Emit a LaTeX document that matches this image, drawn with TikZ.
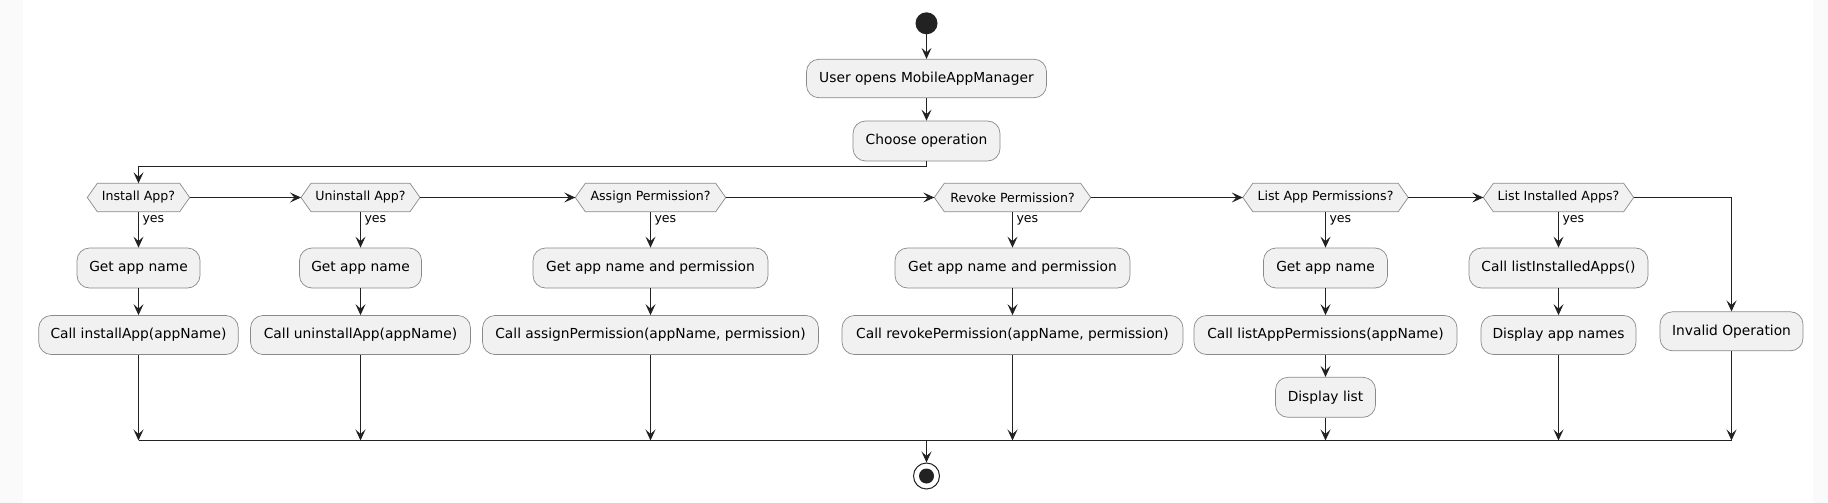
\documentclass[tikz,border=0pt]{standalone}
\usepackage{fontspec}
\setmainfont{DejaVu Sans}
\usetikzlibrary{arrows.meta,backgrounds}
\definecolor{boxfill}{HTML}{F1F1F1}
\definecolor{ink}{HTML}{222222}
\definecolor{edgegray}{HTML}{8A8A8A}
\definecolor{margin}{HTML}{FAFAFA}
\tikzset{
  act/.style={draw=edgegray, fill=boxfill, rounded corners=12.5pt, line width=0.7pt,
    minimum height=40pt, inner sep=0pt, font=\fontsize{13.8}{16}\selectfont},
  dec/.style={inner sep=0pt, minimum height=28pt, font=\fontsize{12.6}{15}\selectfont},
  hexline/.style={draw=edgegray, fill=boxfill, line width=0.7pt},
  flow/.style={draw=ink, line width=1pt, -{Stealth[length=11pt,width=10pt,inset=4.5pt]}},
  plain/.style={draw=ink, line width=1pt},
  yeslbl/.style={anchor=west, pos=0.24, xshift=3.5pt, inner sep=0pt, font=\fontsize{12.6}{15}\selectfont}
}
\newcommand{\hexdec}[4]{%
  \node[dec, minimum width=#3pt] (#1) at (#2,197.5) {#4};
  \begin{scope}[on background layer]
  \draw[hexline] (#1.west) -- ([xshift=10pt]#1.north west) -- ([xshift=-10pt]#1.north east)
     -- (#1.east) -- ([xshift=-10pt]#1.south east) -- ([xshift=10pt]#1.south west) -- cycle;
  \end{scope}}
\begin{document}
\begin{tikzpicture}[x=1pt,y=-1pt]
\begin{scope}[on background layer]
\fill[margin] (0,0) rectangle (1828,503);
\fill[white] (23,0) rectangle (1813,503);
\end{scope}
\useasboundingbox (0,0) rectangle (1828,503);

% start
\node[circle, fill=ink, minimum size=22pt, inner sep=0pt] (start) at (926.5,23.3) {};
\node[act, minimum width=240pt, minimum height=38.5pt] (u) at (926.5,78.5) {User opens MobileAppManager};
\node[act, minimum width=147pt] (c) at (926.5,141) {Choose operation};

% decisions
\hexdec{d1}{138.5}{102}{Install App?}
\hexdec{d2}{360.5}{118.6}{Uninstall App?}
\hexdec{d3}{650.5}{150}{Assign Permission?}
\hexdec{d4}{1012.5}{156}{Revoke Permission?}
\hexdec{d5}{1325.5}{165}{List App Permissions?}
\hexdec{d6}{1558.5}{150}{List Installed Apps?}

% first actions
\node[act, minimum width=123pt] (g1) at (138.5,268) {Get app name};
\node[act, minimum width=122pt] (g2) at (360.5,268) {Get app name};
\node[act, minimum width=235pt] (g3) at (650.5,268) {Get app name and permission};
\node[act, minimum width=235pt] (g4) at (1012.5,268) {Get app name and permission};
\node[act, minimum width=124pt] (g5) at (1325.5,268) {Get app name};
\node[act, minimum width=179pt] (g6) at (1558.5,268) {Call listInstalledApps()};

% second actions
\node[act, minimum width=199.5pt, minimum height=39pt] (k1) at (138.5,335) {Call installApp(appName)};
\node[act, minimum width=220pt, minimum height=39pt] (k2) at (360.5,335) {Call uninstallApp(appName)};
\node[act, minimum width=336pt, minimum height=39pt] (k3) at (650.5,335) {Call assignPermission(appName, permission)};
\node[act, minimum width=341pt, minimum height=39pt] (k4) at (1012.5,335) {Call revokePermission(appName, permission)};
\node[act, minimum width=263pt, minimum height=39pt] (k5) at (1325.5,335) {Call listAppPermissions(appName)};
\node[act, minimum width=155pt, minimum height=39pt] (k6) at (1558.5,335) {Display app names};
\node[act, minimum width=100pt] (dl) at (1325.5,397.3) {Display list};
\node[act, minimum width=143pt, minimum height=39pt] (inv) at (1731.5,331.3) {Invalid Operation};

% end
\node[circle, draw=ink, fill=white, minimum size=26pt, inner sep=0pt, line width=1pt] (end) at (926.5,476) {};
\fill[ink] (end.center) circle (7.5pt);

% coordinates
\coordinate (split) at (926.5,166.5);
\coordinate (m1) at (138.5,440.5);
\coordinate (m2) at (360.5,440.5);
\coordinate (m3) at (650.5,440.5);
\coordinate (m4) at (1012.5,440.5);
\coordinate (m5) at (1325.5,440.5);
\coordinate (m6) at (1558.5,440.5);
\coordinate (m7) at (1731.5,440.5);
\coordinate (mc) at (926.5,440.5);

% connectors
\draw[flow] (start) -- (u);
\draw[flow] (u) -- (c);
\draw[flow] (c.south) -- (split) -| (d1.north);
\draw[flow] (d1.east) -- (d2.west);
\draw[flow] (d2.east) -- (d3.west);
\draw[flow] (d3.east) -- (d4.west);
\draw[flow] (d4.east) -- (d5.west);
\draw[flow] (d5.east) -- (d6.west);
\draw[flow] (d6.east) -| (inv.north);

\draw[flow] (d1.south) -- node[yeslbl] {yes} (g1.north);
\draw[flow] (d2.south) -- node[yeslbl] {yes} (g2.north);
\draw[flow] (d3.south) -- node[yeslbl] {yes} (g3.north);
\draw[flow] (d4.south) -- node[yeslbl] {yes} (g4.north);
\draw[flow] (d5.south) -- node[yeslbl] {yes} (g5.north);
\draw[flow] (d6.south) -- node[yeslbl] {yes} (g6.north);

\draw[flow] (g1) -- (k1);
\draw[flow] (g2) -- (k2);
\draw[flow] (g3) -- (k3);
\draw[flow] (g4) -- (k4);
\draw[flow] (g5) -- (k5);
\draw[flow] (g6) -- (k6);
\draw[flow] (k5) -- (dl);

\draw[flow] (k1.south) -- (m1);
\draw[flow] (k2.south) -- (m2);
\draw[flow] (k3.south) -- (m3);
\draw[flow] (k4.south) -- (m4);
\draw[flow] (dl.south) -- (m5);
\draw[flow] (k6.south) -- (m6);
\draw[flow] (inv.south) -- (m7);
\draw[plain] (m1) -- (m7);
\draw[flow] (mc) -- (end);
\end{tikzpicture}
\end{document}
